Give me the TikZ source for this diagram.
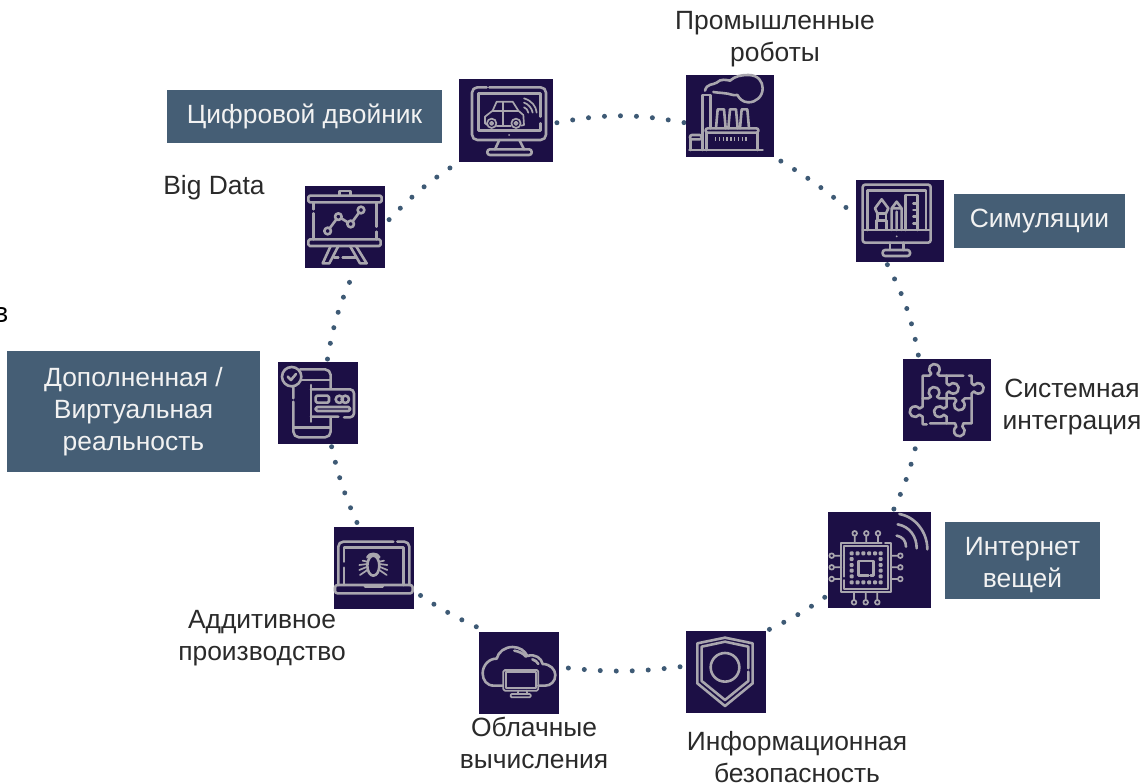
\documentclass[tikz,border=0pt]{standalone}
\usepackage{fontspec}
\setmainfont{Liberation Sans}
\newfontfamily\vfont{Open Sans}
\usetikzlibrary{backgrounds}
\definecolor{navyb}{HTML}{1C0F45}
\definecolor{icong}{HTML}{A9A6AE}
\definecolor{slateb}{HTML}{455E75}
\definecolor{dotc}{HTML}{3E5A75}
\definecolor{txtc}{HTML}{2A2A2A}
\tikzset{
  iconbox/.style={fill=navyb,inner sep=0,outer sep=0,minimum width=#1},
  iconbox/.default=80pt,
  tagbox/.style={fill=slateb,text=white!95!black,inner sep=0,outer sep=0,align=center,font=\fontsize{26.4}{32}\selectfont},
  tagtext/.style={text=white!95!black,inner sep=0,outer sep=0,align=center,font=\fontsize{26.4}{32}\selectfont},
  lab/.style={text=txtc,inner sep=0,outer sep=0,align=center,font=\fontsize{26.4}{32}\selectfont},
  dotted link/.style={draw=dotc,line width=5pt,line cap=round,dash pattern=on 0pt off 16pt},
  ic/.style={draw=icong,line width=2.6pt,line cap=round,line join=round,fill=none},
  ict/.style={draw=icong,line width=1.7pt,line cap=round,line join=round,fill=none},
  zoomed/.style 2 args={shift={(#1,#2)},x=0.33333pt,y=-0.33333pt},
}
\begin{document}
\begin{tikzpicture}[x=1pt,y=-1pt]
\useasboundingbox (0,0) rectangle (1145,783);
% tiles
\node[iconbox=94pt,minimum height=83pt] (car) at (506,120.5) {};
\node[iconbox=88pt,minimum height=82pt] (factory) at (730,116) {};
\node[iconbox=88pt,minimum height=82pt] (sim) at (900,221) {};
\node[iconbox=88pt,minimum height=82pt] (puzzle) at (947,400) {};
\node[iconbox=103pt,minimum height=96pt] (chip) at (879.5,560) {};
\node[iconbox=80pt,minimum height=82pt] (shield) at (726,672) {};
\node[iconbox=80pt,minimum height=82pt] (cloud) at (519,673) {};
\node[iconbox=80pt,minimum height=82pt] (laptop) at (374,568) {};
\node[iconbox=80pt,minimum height=82pt] (phone) at (318,403) {};
\node[iconbox=80pt,minimum height=82pt] (chart) at (345,227) {};
% dotted ring
\begin{scope}[on background layer]
\draw[dotted link,dash phase=12pt] ([yshift=-3pt]car.east) to[bend left=11] ([yshift=-7pt]factory.west);
\draw[dotted link,dash phase=8pt] (factory.south east) to[bend left=5] ([yshift=5pt]sim.west);
\draw[dotted link,dash phase=13pt] ([xshift=-14pt]sim.south) to[bend left=9] ([xshift=-28pt]puzzle.north);
\draw[dotted link,dash phase=8pt] ([xshift=-30pt]puzzle.south) to[bend left=6] ([xshift=13pt]chip.north);
\draw[dotted link,dash phase=12pt] ([yshift=-35pt]chip.west) to[bend left=5] (shield.north east);
\draw[dotted link,dash phase=10pt] ([yshift=6pt]shield.west) to[bend left=7] ([yshift=6pt]cloud.east);
\draw[dotted link,dash phase=13pt] ([yshift=4pt]cloud.north west) to[bend left=5] ([yshift=-23pt]laptop.east);
\draw[dotted link,dash phase=11pt] ([xshift=-15pt]laptop.north) to[bend left=6] ([xshift=13pt]phone.south);
\draw[dotted link,dash phase=13pt] ([xshift=9pt]phone.north) to[bend left=8] ([xshift=11pt]chart.south);
\draw[dotted link,dash phase=10pt] ([yshift=3pt]chart.east) to[bend left=7] (car.south west);
\end{scope}
% car monitor
\begin{scope}[zoomed={450}{60}]
\draw[ic] (110,82) -- (82,82) arc (270:180:16) -- (66,224) arc (180:90:16) -- (272,240) arc (90:0:16) -- (288,98) arc (0:-90:16) -- (118,82);
\draw[ic] (272,170) -- (272,100) -- (85,100) -- (85,212) -- (272,212) -- (272,190);
\draw[ic] (148,240) -- (135,268) (208,240) -- (222,268);
\draw[ic,rounded corners=2.5pt] (112,268) rectangle (245,285);
\fill[icong] (177,225) circle (3);
\draw[ict] (112,195) -- (105,190) -- (105,170) -- (128,152) -- (140,125) -- (188,125) -- (205,152) -- (220,165) -- (222,195) -- (214,197);
\draw[ict] (140,197) -- (182,197) (128,152) -- (205,152) (160,125) -- (160,197);
\draw[ict] (125,190) circle (14) (198,190) circle (14) (125,190) circle (5) (198,190) circle (5);
\draw[ict] (222,115) .. controls (245,122) and (258,138) .. (260,158);
\draw[ict] (222,128) .. controls (235,132) and (246,145) .. (248,158);
\draw[ict] (222,142) .. controls (228,144) and (234,150) .. (235,158);
\end{scope}
% factory
\begin{scope}[zoomed={450}{60}]
\draw[ic] (757,270) -- (757,105) -- (781,105) -- (781,205);
\draw[ic] (765,92) .. controls (770,70) and (790,75) .. (800,68) .. controls (812,55) and (830,60) .. (840,62) .. controls (855,48) and (875,45) .. (895,45) .. controls (925,45) and (938,65) .. (938,85) .. controls (938,110) and (918,127) .. (895,127) .. controls (878,127) and (868,115) .. (862,105) .. controls (848,108) and (838,100) .. (825,100) .. controls (812,98) and (800,98) .. (790,96);
\draw[ic] (798,205) -- (803,148) -- (822,148) -- (827,205);
\draw[ic] (835,205) -- (840,148) -- (858,148) -- (863,205);
\draw[ic] (870,205) -- (875,148) -- (892,148) -- (897,205);
\draw[ic,rounded corners=2pt] (767,205) rectangle (925,218);
\draw[ic] (770,218) -- (770,270) (922,218) -- (922,270);
\draw[icong,line width=3.2pt,dash pattern=on 1.3pt off 2.5pt] (795,237) -- (897,237);
\draw[ic,rounded corners=2pt] (720,225) rectangle (755,238);
\draw[ic] (722,238) -- (722,270) (718,270) -- (938,270);
\end{scope}
% design monitor
\begin{scope}[zoomed={850}{170}]
\draw[ic,rounded corners=2.5pt] (38,44) rectangle (242,218);
\draw[ic] (53,180) -- (53,62) -- (228,62) -- (228,180);
\draw[ic] (38,180) -- (242,180);
\fill[icong] (140,199) circle (3);
\draw[ic] (120,218) -- (120,240) (160,218) -- (160,240);
\draw[ic,rounded corners=2.5pt] (98,240) rectangle (180,258);
\draw[ic] (95,88) -- (115,115) -- (108,130) -- (82,130) -- (75,115) -- cycle;
\draw[ic] (82,130) rectangle (108,152) (80,152) rectangle (110,180);
\draw[ic] (125,115) -- (140,95) -- (155,115) -- cycle (125,115) -- (125,180) (155,115) -- (155,180) (140,125) -- (140,180);
\draw[ic] (167,180) -- (167,75) -- (202,75) -- (202,180);
\draw[ic] (190,100) -- (202,100) (190,120) -- (202,120) (190,140) -- (202,140) (190,160) -- (202,160);
\end{scope}
% puzzle
\begin{scope}[zoomed={900}{355}]
\draw[ic] (68,155) -- (68,62) -- (88,62) -- (93.8,56.1) arc (125:415:16) -- (118,62) -- (190,62);
\draw[ic] (207,62) -- (215,62) -- (215,85) -- (221.9,90.8) arc (215:505:16) -- (215,115) -- (215,205) -- (190,205) -- (187.2,214.9) arc (-55:235:16) -- (165,205) -- (90,205);
\draw[ic] (80,208) -- (68,208) -- (68,185) -- (58.1,179.2) arc (35:325:16) -- (68,155);
\draw[ic] (140,62) -- (140,85) -- (146.9,90.8) arc (215:505:16) -- (140,115) -- (140,130);
\draw[ic] (68,130) -- (85,130) -- (92.8,125.1) arc (125:415:16) -- (118,130) -- (163,130) -- (168.8,136.9) arc (235:-55:16) -- (195,130) -- (215,130);
\draw[ic] (140,130) -- (140,155) -- (131.1,160.8) arc (325:35:16) -- (140,185) -- (140,205);
\end{scope}
% chip
\begin{scope}[zoomed={680}{505}]
\draw[ic,line width=1.9pt] (605,113) -- (484,113) -- (484,262) -- (633,262) -- (633,113) -- (615,113);
\draw[ic,line width=1.9pt] (493,225) -- (493,253) -- (624,253) -- (624,122) -- (493,122) -- (493,215);
\foreach \p in {515,532.5,550,567.5,585,602}{
  \fill[icong,rounded corners=1pt] (\p-6,139) rectangle (\p+6,151);
  \fill[icong,rounded corners=1pt] (\p-6,226) rectangle (\p+6,238);
}
\foreach \p in {162,180,197,214}{
  \fill[icong,rounded corners=1pt] (509,\p-6) rectangle (521,\p+6);
  \fill[icong,rounded corners=1pt] (596,\p-6) rectangle (608,\p+6);
}
\draw[ic] (565,212) -- (535,212) -- (535,168) -- (580,168) -- (580,212) -- (572,212);
\foreach \p/\q in {524/522,559/557,594/592}{
  \draw[ict] (\p,113) -- (\p,92) (\p,85) circle (7);
  \draw[ict] (\q,262) -- (\q,285) (\q,292) circle (7);
}
\foreach \p in {152,187,222}{
  \draw[ict] (484,\p) -- (462,\p) (455,\p) circle (7);
  \draw[ict] (633,\p) -- (654,\p) (661,\p) circle (7);
}
\draw[ic] (650,92) .. controls (668,95) and (678,108) .. (678,125);
\draw[ic] (653,58) .. controls (690,65) and (710,95) .. (710,130);
\draw[ic] (658,27) .. controls (705,35) and (742,80) .. (742,133);
\end{scope}
% shield
\begin{scope}[zoomed={680}{505}]
\draw[ic] (52,415) -- (135,398) -- (218,415) -- (218,535) -- (135,603) -- (52,535) -- cycle;
\draw[ic] (205,490) -- (205,425) -- (135,410) -- (65,425) -- (65,528) -- (135,585) -- (205,528) -- (205,500);
\draw[ic] (135,487) circle (43);
\end{scope}
% cloud
\begin{scope}[zoomed={320}{520}]
\draw[ic] (548,497) -- (522,497) .. controls (500,497) and (488,480) .. (488,460) .. controls (488,435) and (508,415) .. (530,416) .. controls (535,395) and (555,381) .. (578,381) .. controls (598,381) and (615,392) .. (622,408) .. controls (645,400) and (665,415) .. (668,432) .. controls (690,432) and (706,448) .. (706,465) .. controls (706,485) and (692,497) .. (675,497) -- (655,497);
\draw[ic] (583,392) .. controls (598,395) and (610,400) .. (618,410);
\draw[ic] (637,418) .. controls (645,420) and (652,426) .. (655,432);
\draw[ict,rounded corners=1.5pt] (550,450) rectangle (655,512);
\draw[ict] (558,457) rectangle (647,503);
\draw[ict] (595,512) -- (593,522) (620,512) -- (622,522);
\draw[ict,rounded corners=1pt] (572,522) rectangle (632,532);
\end{scope}
% laptop
\begin{scope}[zoomed={320}{520}]
\draw[ic] (55,195) -- (55,80) arc (180:270:15) -- (220,65) (232,65) -- (253,65) arc (270:360:15) -- (268,195);
\draw[ic] (72,125) -- (72,82) -- (250,82) -- (250,195) (72,143) -- (72,195);
\draw[ic,rounded corners=2.5pt] (45,195) rectangle (278,220);
\draw[ic] (135,199) -- (188,199);
\draw[ic] (160,137) ellipse (18 and 30);
\draw[ic] (142,112) .. controls (146,98) and (174,98) .. (178,112);
\draw[ict] (142,125) -- (128,122) (142,132) -- (118,135) (142,140) -- (118,150) (142,150) -- (120,165);
\draw[ict] (178,125) -- (192,122) (178,132) -- (202,135) (178,140) -- (202,150) (178,150) -- (200,165);
\end{scope}
% phone with card
\begin{scope}[zoomed={270}{180}]
\draw[ic] (65,590) circle (29);
\draw[ic] (53,590) -- (63,600) -- (78,582);
\draw[ic] (90,568) -- (165,568) arc (270:360:17) -- (182,625);
\draw[ic] (70,620) -- (70,655) (70,665) -- (70,755) arc (180:90:17) -- (165,772) arc (90:0:17) -- (182,715);
\draw[ic] (70,742) -- (182,742) (95,600) -- (182,600);
\draw[ic] (123,615) -- (123,725);
\draw[ic] (123,628) -- (240,628) arc (270:360:12) -- (252,700) arc (0:90:12) -- (222,712) (205,710) -- (123,710);
\draw[ic,rounded corners=1.5pt] (137,647) rectangle (177,668);
\draw[ic] (208,658) circle (11) (226,658) circle (11);
\draw[ic,rounded corners=1.5pt] (137,681) rectangle (240,693);
\end{scope}
% chart easel
\begin{scope}[zoomed={270}{180}]
\draw[ic] (208,47) -- (208,33) -- (242,33) -- (242,47);
\draw[ic,rounded corners=1.5pt] (115,47) rectangle (335,67);
\draw[ic] (130,67) -- (130,88) (130,100) -- (130,178);
\draw[ic] (320,67) -- (320,140) (320,155) -- (320,178);
\draw[ic,rounded corners=1.5pt] (115,178) rectangle (332,198);
\draw[ic] (182,198) -- (158,250) -- (178,250) -- (205,198);
\draw[ic] (258,198) -- (290,250) -- (270,250) -- (240,198);
\draw[ic] (192,233) -- (205,233) (218,233) -- (258,233);
\draw[ic] (173,153) circle (10) (205,110) circle (10) (242,132) circle (10) (273,90) circle (10);
\draw[ic] (179,145) -- (199,118) (214,115) -- (233,127) (248,124) -- (267,98);
\end{scope}
% boxes
\node[tagbox,minimum width=275pt,minimum height=53pt] (twin) at (304.5,116.5) {Цифровой двойник};
\node[tagbox,minimum width=171pt,minimum height=54pt] (simtag) at (1039.5,221) {Симуляции};
\node[tagbox,minimum width=155pt,minimum height=77pt] (iot) at (1022.5,560.5) {};
\node[tagtext] (iottext) at (1022.5,565) {Интернет\\вещей};
\node[tagbox,minimum width=253pt,minimum height=121pt] (ar) at (133.5,411.5) {Дополненная /\\Виртуальная\\реальность};
% labels
\node[lab] (robots) at (775,39) {Промышленные\\роботы};
\node[lab] (bigdata) at (214,188) {Big Data};
\node[lab] (sysint) at (1072,407) {Системная\\интеграция};
\node[lab] (infosec) at (797,757) {Информационная\\безопасность};
\node[lab] (cloudtxt) at (534,743) {Облачные\\вычисления};
\node[lab] (addit) at (262,638) {Аддитивное\\производство};
\node[inner sep=0,outer sep=0,anchor=east,text=black,font=\vfont\fontsize{28}{30}\selectfont] (cut) at (8,315) {в};
\end{tikzpicture}
\end{document}
